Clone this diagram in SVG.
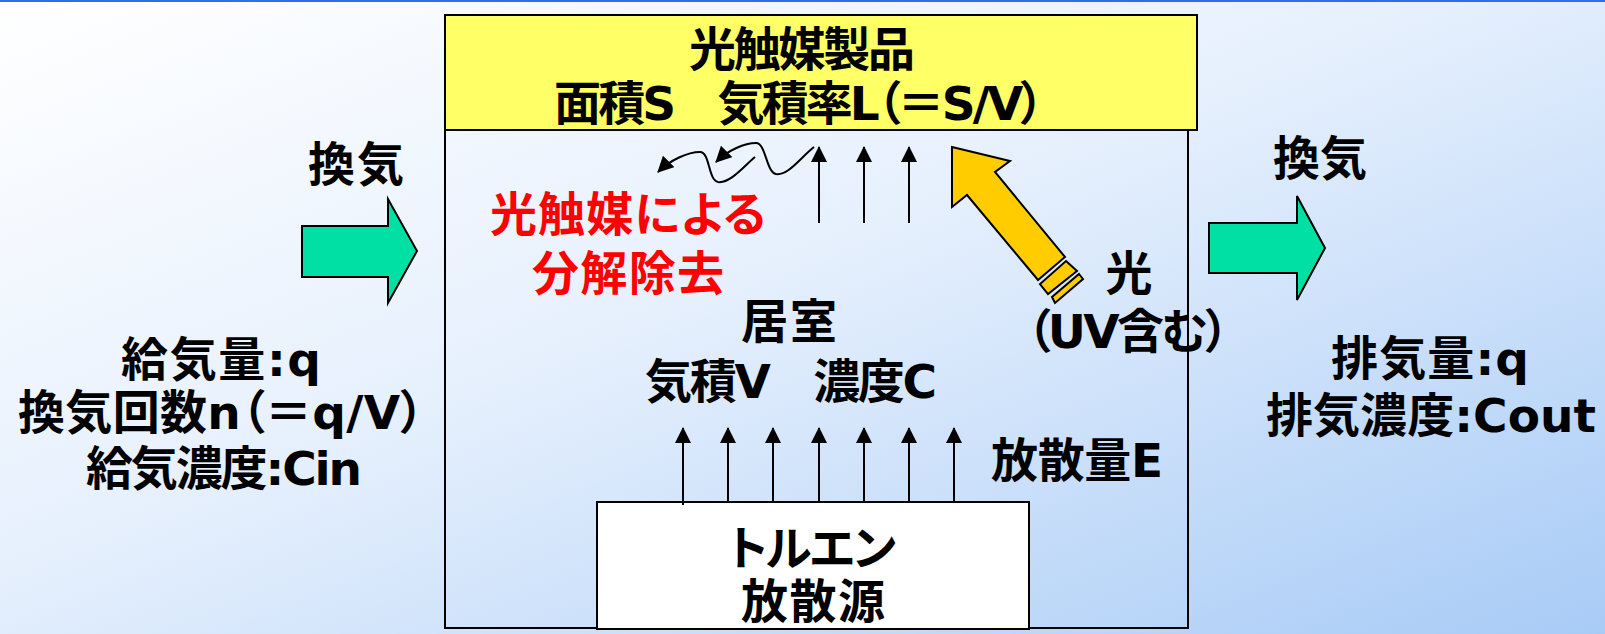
<svg xmlns="http://www.w3.org/2000/svg" width="1605" height="634" viewBox="0 0 1605 634">
<defs>
<linearGradient id="bg" x1="0" y1="0" x2="1" y2="1">
<stop offset="0" stop-color="#ffffff"/>
<stop offset="0.45" stop-color="#e6f0fd"/>
<stop offset="1" stop-color="#a8cbf6"/>
</linearGradient>
<marker id="ah" viewBox="0 0 16 16" refX="15" refY="8" markerWidth="16" markerHeight="16" markerUnits="userSpaceOnUse" orient="auto">
<path d="M0,0 L16,8 L0,16 Z" fill="#000"/>
</marker>
<style>
text{font-family:"DejaVu Sans","Noto Sans CJK JP",sans-serif;font-weight:bold;font-size:47px;fill:#000;text-anchor:middle;font-feature-settings:"palt"}
.red{fill:#ff0000}
.box{stroke:#000;stroke-width:2}
.ln{stroke:#000;stroke-width:2;fill:none;marker-end:url(#ah)}
.green{fill:#00e0a4;stroke:#000;stroke-width:2;stroke-linejoin:miter}
.yel{fill:#ffcc00;stroke:#000;stroke-width:2}
</style>
</defs>
<rect x="0" y="0" width="1605" height="634" fill="url(#bg)"/>
<rect x="0" y="0" width="1605" height="2" fill="#2f6ee8"/>

<g id="room">
<rect class="box" x="445" y="15" width="743" height="613" fill="none"/>
<text x="789" y="338" textLength="96" lengthAdjust="spacing">居室</text>
<text x="791" y="398" textLength="292" lengthAdjust="spacing">気積V　濃度C</text>
</g>

<g id="photocatalyst">
<rect class="box" x="445" y="15" width="752" height="115" fill="#ffff66"/>
<text x="802" y="66" textLength="226" lengthAdjust="spacing">光触媒製品</text>
<text x="799" y="120" textLength="490" lengthAdjust="spacing">面積S　気積率L（＝S/V）</text>
</g>

<g id="source">
<rect class="box" x="597" y="502" width="432" height="127" fill="#ffffff"/>
<text x="812" y="565" textLength="168" lengthAdjust="spacing">トルエン</text>
<text x="813" y="618" textLength="144" lengthAdjust="spacing">放散源</text>
</g>

<g id="decomposition">
<text class="red" x="628" y="231" textLength="276" lengthAdjust="spacing">光触媒による</text>
<text class="red" x="628" y="290" textLength="192" lengthAdjust="spacing">分解除去</text>
</g>

<g id="light">
<polygon class="yel" points="952,147 1010,161 995,172 1065,257 1038,280 967,195 952,207"/>
<polygon class="yel" points="1066,261 1077,271 1048,294 1040,284"/>
<polygon class="yel" points="1079,274 1083,279 1055,303 1052,297"/>
<text x="1129" y="290">光</text>
<text x="1128" y="348" textLength="202" lengthAdjust="spacing">（UV含む）</text>
</g>

<g id="emission-label">
<text x="1077" y="477" textLength="172" lengthAdjust="spacing">放散量E</text>
</g>

<g id="inflow">
<polygon class="green" points="302,226 388,226 388,199 417,251 388,303 388,277 302,277"/>
<text x="356" y="181" textLength="96" lengthAdjust="spacing">換気</text>
<text x="221" y="376" textLength="200" lengthAdjust="spacing">給気量:q</text>
<text x="221" y="429" textLength="406" lengthAdjust="spacing">換気回数n（＝q/V）</text>
<text x="224" y="485" textLength="276" lengthAdjust="spacing">給気濃度:Cin</text>
</g>

<g id="outflow">
<polygon class="green" points="1209,223 1297,223 1297,196 1325,248 1297,300 1297,273 1209,273"/>
<text x="1320" y="175" textLength="94" lengthAdjust="spacing">換気</text>
<text x="1430" y="375" textLength="198" lengthAdjust="spacing">排気量:q</text>
<text x="1431" y="432" textLength="330" lengthAdjust="spacing">排気濃度:Cout</text>
</g>

<g id="connectors">
<line class="ln" x1="683" y1="505" x2="683" y2="428"/>
<line class="ln" x1="728" y1="502" x2="728" y2="428"/>
<line class="ln" x1="773" y1="502" x2="773" y2="428"/>
<line class="ln" x1="819" y1="502" x2="819" y2="428"/>
<line class="ln" x1="864" y1="502" x2="864" y2="428"/>
<line class="ln" x1="909" y1="502" x2="909" y2="428"/>
<line class="ln" x1="954" y1="502" x2="954" y2="428"/>
<line class="ln" x1="819" y1="223" x2="819" y2="147"/>
<line class="ln" x1="864" y1="223" x2="864" y2="147"/>
<line class="ln" x1="909" y1="223" x2="909" y2="147"/>
<path class="ln" d="M814,147 C800,158 788,176 776,174 C766,172 766,143 756,143 C745,143 728,150 716,162"/>
<path class="ln" d="M755,157 C745,165 730,184 718,182 C708,180 710,152 700,152 C688,152 670,160 658,172"/>
</g>
</svg>
